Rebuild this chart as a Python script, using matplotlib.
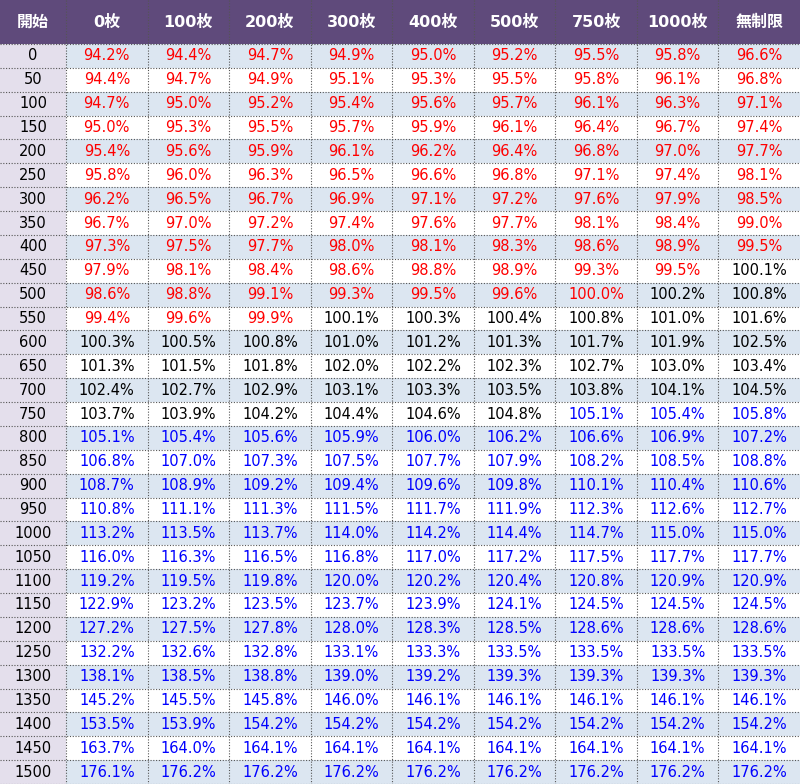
import matplotlib
matplotlib.use("Agg")
import matplotlib.pyplot as plt
from matplotlib.patches import Rectangle

plt.rcParams['font.family'] = ['DejaVu Sans', 'Noto Sans CJK JP']

corner_label = "開始"
col_labels = ["0枚", "100枚", "200枚", "300枚", "400枚", "500枚", "750枚", "1000枚", "無制限"]
row_labels = ["0", "50", "100", "150", "200", "250", "300", "350", "400", "450", "500",
              "550", "600", "650", "700", "750", "800", "850", "900", "950", "1000",
              "1050", "1100", "1150", "1200", "1250", "1300", "1350", "1400", "1450", "1500"]

values = [
    [94.2, 94.4, 94.7, 94.9, 95.0, 95.2, 95.5, 95.8, 96.6],
    [94.4, 94.7, 94.9, 95.1, 95.3, 95.5, 95.8, 96.1, 96.8],
    [94.7, 95.0, 95.2, 95.4, 95.6, 95.7, 96.1, 96.3, 97.1],
    [95.0, 95.3, 95.5, 95.7, 95.9, 96.1, 96.4, 96.7, 97.4],
    [95.4, 95.6, 95.9, 96.1, 96.2, 96.4, 96.8, 97.0, 97.7],
    [95.8, 96.0, 96.3, 96.5, 96.6, 96.8, 97.1, 97.4, 98.1],
    [96.2, 96.5, 96.7, 96.9, 97.1, 97.2, 97.6, 97.9, 98.5],
    [96.7, 97.0, 97.2, 97.4, 97.6, 97.7, 98.1, 98.4, 99.0],
    [97.3, 97.5, 97.7, 98.0, 98.1, 98.3, 98.6, 98.9, 99.5],
    [97.9, 98.1, 98.4, 98.6, 98.8, 98.9, 99.3, 99.5, 100.1],
    [98.6, 98.8, 99.1, 99.3, 99.5, 99.6, 100.0, 100.2, 100.8],
    [99.4, 99.6, 99.9, 100.1, 100.3, 100.4, 100.8, 101.0, 101.6],
    [100.3, 100.5, 100.8, 101.0, 101.2, 101.3, 101.7, 101.9, 102.5],
    [101.3, 101.5, 101.8, 102.0, 102.2, 102.3, 102.7, 103.0, 103.4],
    [102.4, 102.7, 102.9, 103.1, 103.3, 103.5, 103.8, 104.1, 104.5],
    [103.7, 103.9, 104.2, 104.4, 104.6, 104.8, 105.1, 105.4, 105.8],
    [105.1, 105.4, 105.6, 105.9, 106.0, 106.2, 106.6, 106.9, 107.2],
    [106.8, 107.0, 107.3, 107.5, 107.7, 107.9, 108.2, 108.5, 108.8],
    [108.7, 108.9, 109.2, 109.4, 109.6, 109.8, 110.1, 110.4, 110.6],
    [110.8, 111.1, 111.3, 111.5, 111.7, 111.9, 112.3, 112.6, 112.7],
    [113.2, 113.5, 113.7, 114.0, 114.2, 114.4, 114.7, 115.0, 115.0],
    [116.0, 116.3, 116.5, 116.8, 117.0, 117.2, 117.5, 117.7, 117.7],
    [119.2, 119.5, 119.8, 120.0, 120.2, 120.4, 120.8, 120.9, 120.9],
    [122.9, 123.2, 123.5, 123.7, 123.9, 124.1, 124.5, 124.5, 124.5],
    [127.2, 127.5, 127.8, 128.0, 128.3, 128.5, 128.6, 128.6, 128.6],
    [132.2, 132.6, 132.8, 133.1, 133.3, 133.5, 133.5, 133.5, 133.5],
    [138.1, 138.5, 138.8, 139.0, 139.2, 139.3, 139.3, 139.3, 139.3],
    [145.2, 145.5, 145.8, 146.0, 146.1, 146.1, 146.1, 146.1, 146.1],
    [153.5, 153.9, 154.2, 154.2, 154.2, 154.2, 154.2, 154.2, 154.2],
    [163.7, 164.0, 164.1, 164.1, 164.1, 164.1, 164.1, 164.1, 164.1],
    [176.1, 176.2, 176.2, 176.2, 176.2, 176.2, 176.2, 176.2, 176.2],
]

HEADER_BG = "#5f4a7b"
FIRST_COL_BG = "#e4dfec"
STRIPE_BG = "#dce6f1"
GRID = "#555555"

def value_color(v):
    if v <= 100.0:
        return "#ff0000"
    if v < 105.0:
        return "#000000"
    return "#0000ff"

W, H = 800, 784
fig = plt.figure(figsize=(W / 100, H / 100), dpi=100)
ax = fig.add_axes([0, 0, 1, 1])
ax.set_xlim(0, W)
ax.set_ylim(H, 0)
ax.axis("off")

first_w = 66
n_cols = len(col_labels)
data_w = (W - first_w) / n_cols
header_h = 44
n_rows = len(row_labels)
row_h = (H - header_h) / n_rows

col_edges = [0, first_w] + [first_w + data_w * (i + 1) for i in range(n_cols)]

# header
ax.add_patch(Rectangle((0, 0), W, header_h, facecolor=HEADER_BG, edgecolor="none"))
headers = [corner_label] + col_labels
for i, lab in enumerate(headers):
    cx = (col_edges[i] + col_edges[i + 1]) / 2
    ax.text(cx, header_h / 2, lab, ha="center", va="center", color="white",
            fontsize=11.5, fontweight="bold")

for r, rl in enumerate(row_labels):
    y0 = header_h + r * row_h
    bg = STRIPE_BG if r % 2 == 0 else "white"
    ax.add_patch(Rectangle((first_w, y0), W - first_w, row_h, facecolor=bg, edgecolor="none"))
    ax.add_patch(Rectangle((0, y0), first_w, row_h, facecolor=FIRST_COL_BG, edgecolor="none"))
    yc = y0 + row_h / 2
    ax.text(first_w / 2, yc, rl, ha="center", va="center", color="black", fontsize=10.5)
    for c, v in enumerate(values[r]):
        cx = (col_edges[c + 1] + col_edges[c + 2]) / 2
        ax.text(cx, yc, f"{v:.1f}%", ha="center", va="center",
                color=value_color(v), fontsize=10.5)

# grid lines
for x in col_edges[1:-1]:
    ax.plot([x, x], [0, H], color=GRID, lw=0.8, ls=(0, (1, 1.5)))
for r in range(n_rows + 1):
    y = header_h + r * row_h
    ax.plot([0, W], [y, y], color=GRID, lw=0.8, ls=(0, (1, 1.5)))

fig.savefig("out.png", dpi=100)
